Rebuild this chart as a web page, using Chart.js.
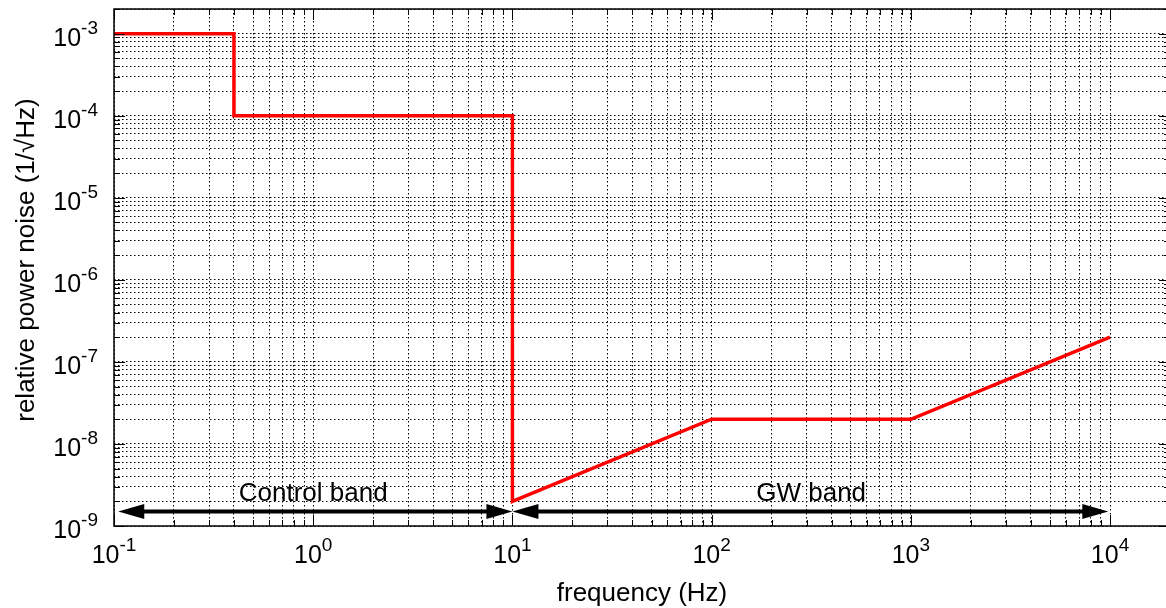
<!DOCTYPE html>
<html>
<head>
<meta charset="utf-8">
<script src="https://cdn.jsdelivr.net/npm/chart.js@4"></script>
<style>
  html, body { margin: 0; padding: 0; overflow: hidden; background: #fff; }
  canvas { display: block; }
</style>
</head>
<body>
<canvas id="noise" width="1172" height="608"></canvas>
<script>
// requirement curve
const freq = [0.1, 0.4, 0.4, 10, 10, 100, 1000, 10000];
const noise = [1e-3, 1e-3, 1e-4, 1e-4, 2e-9, 2e-8, 2e-8, 2e-7];

// decade tick labels (10^n)
const xExponents = [-1, 0, 1, 2, 3, 4];
const yExponents = [-9, -8, -7, -6, -5, -4, -3];

// band arrows and their captions
const bandNames = ['Control band', 'GW band'];
const bandFrom = [0.105, 10];
const bandTo = [10, 9800];
const bandLabelX = [1, 316];
const bandArrowY = 1.5e-9;
const bandLabelY = 2e-9;

const FONT = '"Liberation Sans", Arial, Helvetica, sans-serif';

function logTicks(min, max) {
  const out = [];
  for (let e = Math.floor(Math.log10(min)); e <= Math.ceil(Math.log10(max)); e++) {
    for (let m = 1; m <= 9; m++) {
      const v = m * Math.pow(10, e);
      if (v >= min * 0.999 && v <= max * 1.001) out.push({ value: v });
    }
  }
  return out;
}

function isDecade(v) {
  const l = Math.log10(v);
  return Math.abs(l - Math.round(l)) < 1e-9;
}

function drawPower(ctx, exp, x, baseline, align) {
  ctx.font = '25px ' + FONT;
  const wb = ctx.measureText('10').width;
  ctx.font = '19px ' + FONT;
  const sup = String(exp);
  const ws = ctx.measureText(sup).width;
  const left = align == 'center' ? x - (wb + ws) / 2 : x - (wb + ws);
  ctx.textAlign = 'left';
  ctx.textBaseline = 'alphabetic';
  ctx.font = '25px ' + FONT;
  ctx.fillText('10', left, baseline);
  ctx.font = '19px ' + FONT;
  ctx.fillText(sup, left + wb, baseline - 12);
}

const decorations = {
  id: 'decorations',
  afterDatasetsDraw(chart) {
    const { ctx, chartArea: a, scales: { x, y } } = chart;
    ctx.save();

    // band arrows
    const ay = y.getPixelForValue(bandArrowY);
    const headLen = 26, headHalf = 7.5;
    ctx.fillStyle = '#000';
    ctx.strokeStyle = '#000';
    ctx.lineWidth = 4;
    for (let i = 0; i < bandNames.length; i++) {
      const x0 = x.getPixelForValue(bandFrom[i]);
      const x1 = x.getPixelForValue(bandTo[i]);
      ctx.beginPath();
      ctx.moveTo(x0 + headLen - 1, ay);
      ctx.lineTo(x1 - headLen + 1, ay);
      ctx.stroke();
      ctx.beginPath();
      ctx.moveTo(x0, ay);
      ctx.lineTo(x0 + headLen, ay - headHalf);
      ctx.lineTo(x0 + headLen, ay + headHalf);
      ctx.closePath();
      ctx.fill();
      ctx.beginPath();
      ctx.moveTo(x1, ay);
      ctx.lineTo(x1 - headLen, ay - headHalf);
      ctx.lineTo(x1 - headLen, ay + headHalf);
      ctx.closePath();
      ctx.fill();
    }

    // inward tick marks on all four sides
    ctx.lineWidth = 1;
    ctx.beginPath();
    x.ticks.forEach(t => {
      const px = Math.round(x.getPixelForValue(t.value)) + 0.5;
      const len = isDecade(t.value) ? 11 : 6;
      ctx.moveTo(px, a.bottom); ctx.lineTo(px, a.bottom - len);
      ctx.moveTo(px, a.top); ctx.lineTo(px, a.top + len);
    });
    y.ticks.forEach(t => {
      const py = Math.round(y.getPixelForValue(t.value)) + 0.5;
      const len = isDecade(t.value) ? 11 : 6;
      ctx.moveTo(a.left, py); ctx.lineTo(a.left + len, py);
      ctx.moveTo(a.right, py); ctx.lineTo(a.right - len, py);
    });
    ctx.stroke();

    // frame
    ctx.lineWidth = 1.5;
    ctx.strokeRect(a.left, a.top, a.right - a.left, a.bottom - a.top);

    // band captions
    ctx.font = '26px ' + FONT;
    ctx.textAlign = 'center';
    ctx.textBaseline = 'alphabetic';
    for (let i = 0; i < bandNames.length; i++) {
      ctx.fillText(bandNames[i], x.getPixelForValue(bandLabelX[i]), y.getPixelForValue(bandLabelY));
    }

    // tick labels
    xExponents.forEach(e => drawPower(ctx, e, x.getPixelForValue(Math.pow(10, e)), 563, 'center'));
    yExponents.forEach(e => drawPower(ctx, e, 98, y.getPixelForValue(Math.pow(10, e)) + 12, 'right'));

    // axis titles
    ctx.font = '26px ' + FONT;
    ctx.textAlign = 'center';
    ctx.textBaseline = 'alphabetic';
    ctx.fillText('frequency (Hz)', (a.left + a.right) / 2, 601);
    ctx.save();
    ctx.translate(27, 260);
    ctx.rotate(-Math.PI / 2);
    ctx.textBaseline = 'middle';
    ctx.fillText('relative power noise (1/\u221AHz)', 0, 0);
    ctx.restore();

    ctx.restore();
  }
};

const gridOpts = { color: '#000', lineWidth: 1, drawTicks: false, tickLength: 0 };
const borderOpts = { display: false, dash: [1.5, 2.5] };

new Chart(document.getElementById('noise'), {
  type: 'line',
  data: {
    datasets: [{
      data: freq.map((f, i) => ({ x: f, y: noise[i] })),
      borderColor: '#ff0000',
      borderWidth: 3.5,
      borderJoinStyle: 'miter',
      pointRadius: 0,
      tension: 0,
      fill: false
    }]
  },
  options: {
    responsive: false,
    animation: false,
    devicePixelRatio: 1,
    layout: { padding: { top: 9, right: 2, left: 0, bottom: 0 } },
    plugins: { legend: { display: false }, tooltip: { enabled: false } },
    scales: {
      x: {
        type: 'logarithmic',
        min: 0.1,
        max: 2e4,
        grid: gridOpts,
        border: borderOpts,
        ticks: { display: false },
        afterBuildTicks: s => { s.ticks = logTicks(s.min, s.max); },
        afterFit: s => { s.height = 82; }
      },
      y: {
        type: 'logarithmic',
        min: 1e-9,
        max: 2e-3,
        grid: gridOpts,
        border: borderOpts,
        ticks: { display: false },
        afterBuildTicks: s => { s.ticks = logTicks(s.min, s.max); },
        afterFit: s => { s.width = 114; }
      }
    }
  },
  plugins: [decorations]
});
</script>
</body>
</html>
